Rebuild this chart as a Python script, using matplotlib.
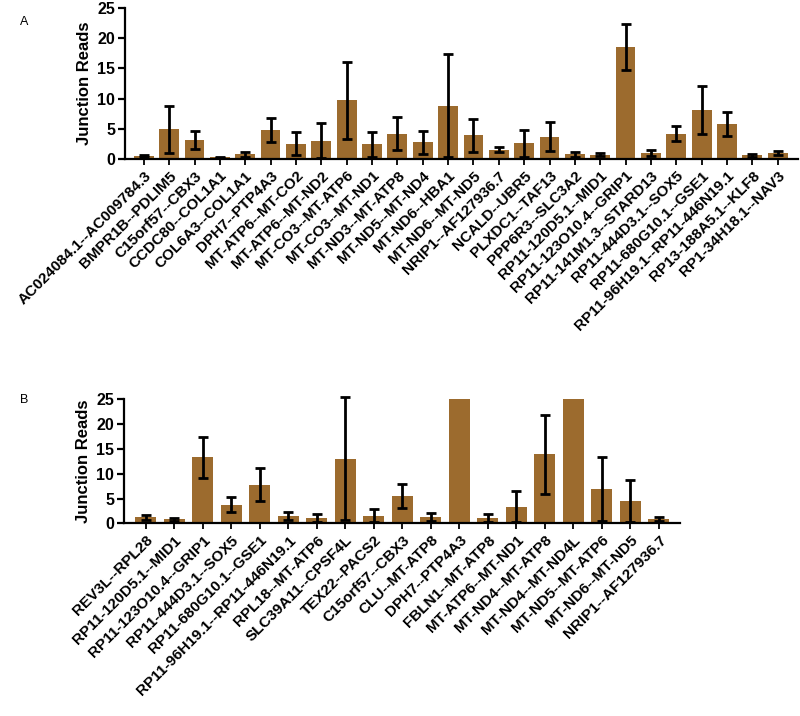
import matplotlib
matplotlib.use("Agg")
import matplotlib.pyplot as plt
import numpy as np

plt.rcParams['font.family'] = ['Liberation Sans', 'DejaVu Sans']
plt.rcParams['font.weight'] = 'bold'

# Panel A data
labels_a = ["AC024084.1--AC009784.3", "BMPR1B--PDLIM5", "C15orf57--CBX3", "CCDC80--COL1A1",
            "COL6A3--COL1A1", "DPH7--PTP4A3", "MT-ATP6--MT-CO2", "MT-ATP6--MT-ND2",
            "MT-CO3--MT-ATP6", "MT-CO3--MT-ND1", "MT-ND3--MT-ATP8", "MT-ND5--MT-ND4",
            "MT-ND6--HBA1", "MT-ND6--MT-ND5", "NRIP1--AF127936.7", "NCALD--UBR5",
            "PLXDC1--TAF13", "PPP6R3--SLC3A2", "RP11-120D5.1--MID1", "RP11-123O10.4--GRIP1",
            "RP11-141M1.3--STARD13", "RP11-444D3.1--SOX5", "RP11-680G10.1--GSE1",
            "RP11-96H19.1--RP11-446N19.1", "RP13-188A5.1--KLF8", "RP1-34H18.1--NAV3"]
values_a = [0.5, 4.9, 3.1, 0.3, 0.8, 4.8, 2.5, 3.0, 9.7, 2.4, 4.2, 2.8, 8.8, 3.9, 1.5,
            2.6, 3.7, 0.8, 0.7, 18.6, 1.0, 4.2, 8.1, 5.8, 0.6, 1.0]
errors_a = [0.2, 3.9, 1.5, 0.1, 0.4, 2.0, 1.9, 2.9, 6.4, 2.1, 2.7, 1.9, 8.5, 2.7, 0.4,
            2.2, 2.4, 0.4, 0.25, 3.8, 0.5, 1.3, 4.0, 2.0, 0.2, 0.35]

# Panel B data
labels_b = ["REV3L--RPL28", "RP11-120D5.1--MID1", "RP11-123O10.4--GRIP1", "RP11-444D3.1--SOX5",
            "RP11-680G10.1--GSE1", "RP11-96H19.1--RP11-446N19.1", "RPL18--MT-ATP6",
            "SLC39A11--CPSF4L", "TEX22--PACS2", "C15orf57--CBX3", "CLU--MT-ATP8",
            "DPH7--PTP4A3", "FBLN1--MT-ATP8", "MT-ATP6--MT-ND1", "MT-ND4--MT-ATP8",
            "MT-ND4--MT-ND4L", "MT-ND5--MT-ATP6", "MT-ND6--MT-ND5", "NRIP1--AF127936.7"]
values_b = [1.2, 0.8, 13.3, 3.8, 7.8, 1.5, 1.1, 13.0, 1.5, 5.5, 1.2, 25.0, 1.1, 3.4,
            13.9, 25.0, 6.9, 4.5, 0.9]
errors_b = [0.5, 0.25, 4.1, 1.6, 3.3, 0.75, 0.8, 12.4, 1.3, 2.4, 0.8, 0.0, 0.8, 3.2,
            7.9, 0.0, 6.4, 4.2, 0.35]

yticks = [0, 5, 10, 15, 20, 25]
bar_color = "#9c6b2e"

fig = plt.figure(figsize=(8.0, 7.16), dpi=100)


def draw_panel(ax, labels, values, errors, width, xlim):
    x = np.arange(len(labels))
    ax.bar(x, values, width=width, color=bar_color, zorder=2)
    yerr = np.array(errors)
    mask = yerr > 0
    ax.errorbar(x[mask], np.array(values)[mask], yerr=yerr[mask], fmt='none',
                ecolor='black', elinewidth=2.0, capsize=3.3, capthick=2.0,
                zorder=3, clip_on=False)
    ax.set_xlim(*xlim)
    ax.set_ylim(0, 25)
    ax.set_yticks(yticks)
    ax.set_yticklabels([str(t) for t in yticks], fontsize=11.5, fontweight='bold')
    ax.set_xticks(x)
    ax.set_xticklabels(labels, rotation=45, ha='right', rotation_mode='anchor',
                       fontsize=11, fontweight='bold')
    for s in ['top', 'right']:
        ax.spines[s].set_visible(False)
    for s in ['left', 'bottom']:
        ax.spines[s].set_linewidth(1.6)
    ax.tick_params(axis='y', length=5, width=1.6, pad=2)
    ax.tick_params(axis='x', length=4, width=1.3, pad=3)
    ax.set_ylabel("Junction Reads", fontsize=12, fontweight='bold', labelpad=4)


ax_a = fig.add_axes([0.156, 0.778, 0.8415, 0.211])
draw_panel(ax_a, labels_a, values_a, errors_a, 0.78, (-0.75, len(labels_a) - 0.2))

ax_b = fig.add_axes([0.155, 0.269, 0.695, 0.1733])
draw_panel(ax_b, labels_b, values_b, errors_b, 0.74, (-0.77, len(labels_b) - 0.26))

fig.text(20 / 800, 1 - 22 / 716, "A", fontsize=9, fontweight='normal', ha='left', va='center')
fig.text(20 / 800, 1 - 400 / 716, "B", fontsize=9, fontweight='normal', ha='left', va='center')

fig.savefig("out.png", dpi=100)
